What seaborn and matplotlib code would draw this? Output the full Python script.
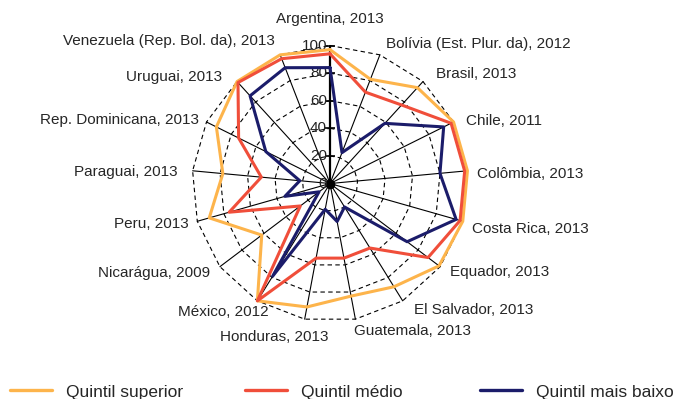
import numpy as np
import pandas as pd
import matplotlib
matplotlib.use('Agg')
import matplotlib.pyplot as plt
from matplotlib.lines import Line2D
import seaborn as sns

# Data (percent)
paises = ['Argentina, 2013', 'Bolívia (Est. Plur. da), 2012', 'Brasil, 2013', 'Chile, 2011',
          'Colômbia, 2013', 'Costa Rica, 2013', 'Equador, 2013', 'El Salvador, 2013',
          'Guatemala, 2013', 'Honduras, 2013', 'México, 2012', 'Nicarágua, 2009',
          'Peru, 2013', 'Paraguai, 2013', 'Rep. Dominicana, 2013', 'Uruguai, 2013',
          'Venezuela (Rep. Bol. da), 2013']
quintil_superior = [97, 81, 94, 100, 100, 100, 99, 88, 83, 91, 100, 62, 91, 78, 92, 100, 100]
quintil_medio = [94, 71, 77, 98, 98, 98, 89, 55, 55, 55, 100, 27, 76, 50, 74, 99, 97]
quintil_baixo = [84, 24, 59, 92, 80, 95, 70, 20, 28, 19, 79, 10, 34, 22, 52, 86, 90]
series = ['Quintil superior', 'Quintil médio', 'Quintil mais baixo']
ticks = [0, 20, 40, 60, 80, 100]

cores = {'Quintil superior': '#FDB44B', 'Quintil médio': '#F04E3A', 'Quintil mais baixo': '#1B1C6A'}

# label placement (pixels from the end of each spoke) and alignment
label_off = [(0, 27), (6, 11), (13, 8), (12, 1), (10, -3), (9, -8), (10, -5), (11, -9),
             (-1, -12), (24, -18), (11, -11), (-10, -6), (-9, -3), (-15, -1), (-8, 2),
             (-15, 5), (-5, 14)]
label_ha = ['center'] + ['left'] * 9 + ['right'] * 7
label_ha[9] = 'right'

n = len(paises)
theta = np.arange(n) * 2 * np.pi / n
theta_closed = np.append(theta, 2 * np.pi)

rows = []
for nome, vals in zip(series, [quintil_superior, quintil_medio, quintil_baixo]):
    vv = list(vals) + [vals[0]]
    for t, v in zip(theta_closed, vv):
        rows.append({'theta': t, 'valor': v, 'serie': nome})
df = pd.DataFrame(rows)

sns.set_style('white')
plt.rcParams['font.family'] = ['Liberation Sans', 'DejaVu Sans']

fig = plt.figure(figsize=(6.79, 3.99), dpi=100)
ax = fig.add_axes([0.2828, 0.1942, 0.4065, 0.6917], projection='polar')
ax.set_theta_zero_location('N')
ax.set_theta_direction(-1)
ax.set_ylim(0, 100)
ax.set_axis_off()

# polygon grid
for r in ticks[1:]:
    ax.plot(theta_closed, [r] * (n + 1), color='black', lw=0.8,
            linestyle=(0, (4, 3)), clip_on=False, zorder=1)
# spokes
for i, t in enumerate(theta):
    ax.plot([t, t], [0, 100], color='black', lw=1.6 if i == 0 else 0.8,
            clip_on=False, zorder=1)
ax.plot([0], [0], marker='o', markersize=6, color='black', zorder=1)

# value axis ticks and labels
for r in ticks:
    ax.plot([0], [r], marker='_', markersize=7, mew=1.2, color='black', clip_on=False, zorder=2)
    ax.annotate(str(r), xy=(0, r), xytext=(-3, 0), textcoords='offset pixels',
                ha='right', va='center', fontsize=11, color='#222222', zorder=2)

sns.lineplot(data=df, x='theta', y='valor', hue='serie', hue_order=series,
             palette=cores, sort=False, estimator=None, legend=False,
             lw=2.2, ax=ax, clip_on=False, zorder=3)
ax.set_xlabel('')
ax.set_ylabel('')

# category labels
for t, nome, (dx, dy), ha in zip(theta, paises, label_off, label_ha):
    ax.annotate(nome, xy=(t, 100), xytext=(dx, dy), textcoords='offset pixels',
                ha=ha, va='center', fontsize=11, annotation_clip=False)

# legend, one entry per column like the original
leg_x = [10, 245, 480]
for x, nome in zip(leg_x, series):
    h = Line2D([], [], color=cores[nome], lw=2.4)
    fig.legend(handles=[h], labels=[nome], loc='center left',
               bbox_to_anchor=(x / 679, 1 - 392 / 399), frameon=False,
               fontsize=12.5, handlelength=2.4, handletextpad=0.85,
               borderpad=0, borderaxespad=0)

fig.savefig('out.png', dpi=100)
